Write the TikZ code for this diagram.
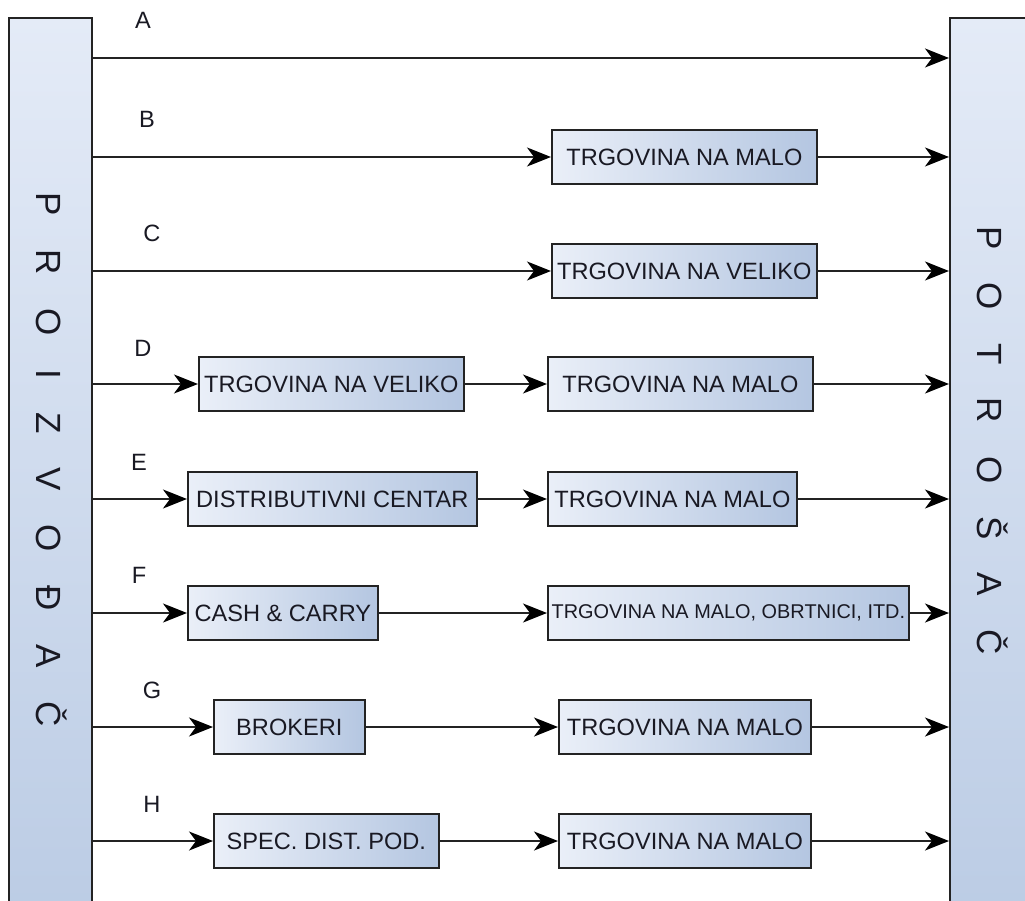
\documentclass[tikz,border=0pt]{standalone}
\usepackage{fontspec}
\setmainfont{Liberation Sans}
\usetikzlibrary{arrows.meta}
\definecolor{boxL}{RGB}{234,239,248}
\definecolor{boxR}{RGB}{180,198,225}
\definecolor{barT}{RGB}{228,235,247}
\definecolor{barB}{RGB}{186,203,228}
\definecolor{edge}{RGB}{35,35,35}
\definecolor{ink}{RGB}{25,25,35}
\begin{document}
\begin{tikzpicture}[x=1pt,y=-1pt,
  box/.style={draw=edge, line width=1.7pt, left color=boxL, right color=boxR, inner sep=0pt,
    minimum height=54pt, font=\fontsize{23.6}{28}\selectfont, text=ink, anchor=west},
  smallbox/.style={box, font=\fontsize{19.9}{24}\selectfont},
  bar/.style={draw=edge, line width=1.7pt, top color=barT, bottom color=barB, inner sep=0pt, anchor=north west},
  lab/.style={font=\fontsize{23.6}{28}\selectfont, text=ink, inner sep=0pt},
  barletter/.style={font=\fontsize{35}{40}\selectfont, text=ink, rotate=-90, anchor=base, inner sep=0pt},
  arr/.style={draw=edge, line width=1.7pt, -{Stealth[length=24pt,width=19pt,inset=7pt,color=black]}}
]
\clip (0,0) rectangle (1025,901);
\fill[white] (0,0) rectangle (1025,901);

% side bars
\node[bar, minimum width=83pt, minimum height=930pt] (Lbar) at (8,17) {};
\node[bar, minimum width=100pt, minimum height=930pt] (Rbar) at (949,17) {};

% bar letters
\foreach \t/\yy [count=\i] in {P/204, R/262, O/322, I/374, Z/423, V/479, O/538, Đ/598, A/656, Č/714}
  \node[barletter] (pl\i) at (36,\yy) {\t};
\foreach \t/\yy [count=\i] in {P/238, O/296, T/354, R/410, O/470, Š/528, A/584, Č/642}
  \node[barletter] (pr\i) at (977,\yy) {\t};

% row labels
\node[lab] (lA) at (143,20) {A};
\node[lab] (lB) at (147,119) {B};
\node[lab] (lC) at (152,233) {C};
\node[lab] (lD) at (143,348) {D};
\node[lab] (lE) at (139,462) {E};
\node[lab] (lF) at (139,575) {F};
\node[lab] (lG) at (152,690) {G};
\node[lab] (lH) at (152,804) {H};

% boxes
\node[box, minimum width=265pt] (B2) at (551,157) {TRGOVINA NA MALO};
\node[box, minimum width=265pt] (C2) at (551,271) {TRGOVINA NA VELIKO};
\node[box, minimum width=265pt] (D1) at (198,384) {TRGOVINA NA VELIKO};
\node[box, minimum width=265pt] (D2) at (547,384) {TRGOVINA NA MALO};
\node[box, minimum width=289pt] (E1) at (187,499) {DISTRIBUTIVNI CENTAR};
\node[box, minimum width=249pt] (E2) at (547,499) {TRGOVINA NA MALO};
\node[box, minimum width=190pt] (F1) at (187,613) {CASH \& CARRY};
\node[smallbox, minimum width=361pt] (F2) at (547,613) {TRGOVINA NA MALO, OBRTNICI, ITD.};
\node[box, minimum width=151pt] (G1) at (213,727) {BROKERI};
\node[box, minimum width=252pt] (G2) at (558,727) {TRGOVINA NA MALO};
\node[box, minimum width=225pt] (H1) at (213,841) {SPEC. DIST. POD.};
\node[box, minimum width=252pt] (H2) at (558,841) {TRGOVINA NA MALO};

% connectors
\coordinate (rA) at (500,58);
\draw[arr] (Lbar.east |- rA) -- (Rbar.west |- rA);
\draw[arr] (Lbar.east |- B2) -- (B2.west);
\draw[arr] (B2.east) -- (Rbar.west |- B2);
\draw[arr] (Lbar.east |- C2) -- (C2.west);
\draw[arr] (C2.east) -- (Rbar.west |- C2);
\foreach \r in {D,E,F,G,H}{
  \draw[arr] (Lbar.east |- \r1) -- (\r1.west);
  \draw[arr] (\r1.east) -- (\r2.west);
  \draw[arr] (\r2.east) -- (Rbar.west |- \r2);
}
\end{tikzpicture}
\end{document}
